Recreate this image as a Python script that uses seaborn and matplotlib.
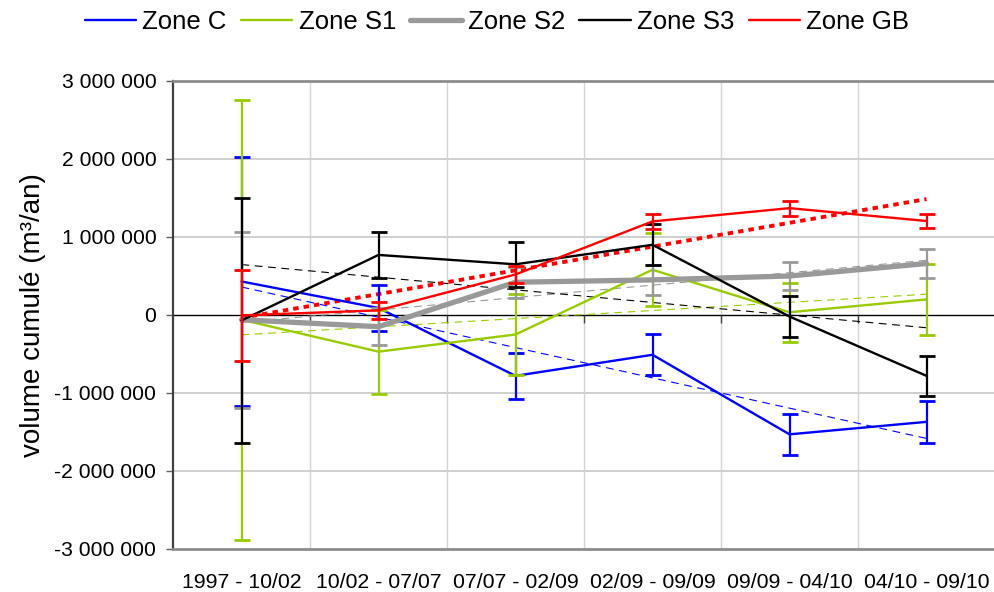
import numpy as np
import pandas as pd
import seaborn as sns
import matplotlib.pyplot as plt
from matplotlib.ticker import FuncFormatter, MultipleLocator

# periods (x categories)
periods = ["1997 - 10/02", "10/02 - 07/07", "07/07 - 02/09",
           "02/09 - 09/09", "09/09 - 04/10", "04/10 - 09/10"]

# cumulated volume (m3/an) per zone
zone_c = [430000, 90000, -780000, -510000, -1530000, -1370000]
zone_s1 = [-60000, -470000, -250000, 580000, 35000, 200000]
zone_s2 = [-60000, -150000, 420000, 450000, 500000, 660000]
zone_s3 = [-70000, 770000, 650000, 900000, -20000, -780000]
zone_gb = [-5000, 60000, 520000, 1200000, 1370000, 1205000]

# error bars (+/-)
err_c = [1600000, 300000, 295000, 265000, 260000, 265000]
err_s1 = [2820000, 540000, 520000, 470000, 380000, 460000]
err_s2 = [1130000, 235000, 200000, 190000, 180000, 190000]
err_s3 = [1570000, 300000, 290000, 265000, 260000, 260000]
err_gb = [580000, 110000, 110000, 100000, 95000, 95000]

zones = ["Zone C", "Zone S1", "Zone S2", "Zone S3", "Zone GB"]
values = [zone_c, zone_s1, zone_s2, zone_s3, zone_gb]
errors = [err_c, err_s1, err_s2, err_s3, err_gb]
colors = ["#0000FF", "#99CC00", "#999999", "#000000", "#FF0000"]
widths = [1.7, 1.7, 3.8, 1.7, 1.7]

sns.set_theme(style="white")
plt.rcParams["font.family"] = ["Liberation Sans", "DejaVu Sans"]
plt.rcParams["text.color"] = "black"
plt.rcParams["axes.labelcolor"] = "black"
plt.rcParams["xtick.labelcolor"] = "black"
plt.rcParams["ytick.labelcolor"] = "black"

fig = plt.figure(figsize=(9.94, 5.92), dpi=100)
ax = fig.add_axes([173 / 994, 1 - 549 / 592, 822 / 994, (549 - 81) / 592])

pos = np.arange(len(periods))

for i, (name, vals, errs, col, lw) in enumerate(zip(zones, values, errors, colors, widths)):
    df = pd.DataFrame({"pos": pos, "volume": vals})
    z = 3 + i * 0.1
    ax.errorbar(pos, vals, yerr=errs, fmt="none", ecolor=col, elinewidth=1.6,
                capsize=5.5, capthick=2, zorder=z)
    sns.lineplot(data=df, x="pos", y="volume", color=col, linewidth=lw,
                 label=name, ax=ax, zorder=z + 0.05)
    # linear trend line (Excel style)
    if name == "Zone GB":
        ls, tlw = (0, (1.4, 1.3)), 2.8
    else:
        ls, tlw = (0, (7, 5)), 0.8
    sns.regplot(data=df, x="pos", y="volume", scatter=False, ci=None, truncate=True,
                line_kws={"color": col, "linestyle": ls, "linewidth": tlw, "zorder": z - 0.5},
                ax=ax)

handles, labels = ax.get_legend_handles_labels()
ax.get_legend().remove()
fig.legend(handles, labels, loc="center", bbox_to_anchor=(0.5, 1 - 22 / 592), ncol=5,
           frameon=False, fontsize=18.5, handlelength=2.0, handletextpad=0.25,
           columnspacing=0.55)

ax.set_xlim(-0.5, len(periods) - 0.5)
ax.set_ylim(-3000000, 3000000)
ax.yaxis.set_major_locator(MultipleLocator(1000000))
ax.yaxis.set_major_formatter(FuncFormatter(lambda v, p: f"{v:,.0f}".replace(",", " ")))
ax.set_xticks(pos)
ax.set_xticklabels(periods)
ax.tick_params(axis="x", length=0, pad=17, labelsize=15.3)
ax.tick_params(axis="y", length=5, width=1, color="#606060", pad=7, labelsize=15.2, left=True)

# grid: horizontal at each million, vertical at category boundaries
for v in [-2000000, -1000000, 1000000, 2000000]:
    ax.axhline(v, color="#cfcfcf", lw=1.4, zorder=0)
for b in np.arange(0.5, len(periods) - 0.5):
    ax.axvline(b, color="#d4d4d4", lw=1, zorder=0)

# zero line acting as category axis, with ticks between categories
ax.axhline(0, color="black", lw=1, zorder=2)
ax.plot(np.arange(0.5, len(periods) - 0.5), np.zeros(len(periods) - 1), linestyle="none",
        marker=3, markersize=6, color="#404040", markeredgewidth=1, zorder=2)

ax.set_xlabel("")
ax.set_ylabel("volume cumulé (m³/an)", fontsize=20, labelpad=6)

ax.spines["right"].set_visible(False)
ax.spines["left"].set_color("#404040")
ax.spines["left"].set_linewidth(1.6)
ax.spines["top"].set_color("#8c8c8c")
ax.spines["top"].set_linewidth(2)
ax.spines["bottom"].set_color("#8c8c8c")
ax.spines["bottom"].set_linewidth(2)

fig.savefig("out.png", dpi=100)
